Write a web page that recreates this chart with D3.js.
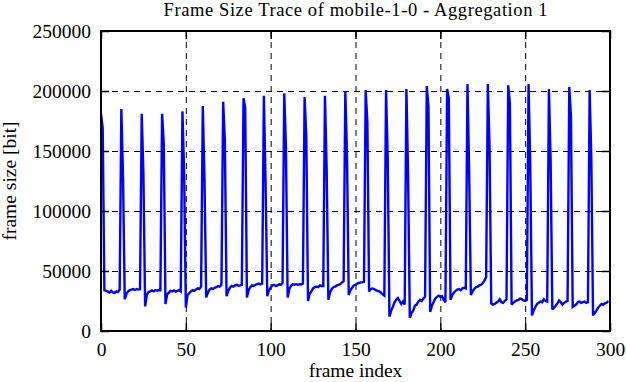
<!DOCTYPE html>
<html><head><meta charset="utf-8">
<script src="https://cdn.jsdelivr.net/npm/d3@7"></script>
<style>body{margin:0;background:#fff}svg{display:block}svg text{font-family:"Liberation Serif","Times New Roman",serif !important;fill:#000}</style>
</head><body>
<script>
const title = "Frame Size Trace of mobile-1-0 - Aggregation 1";
const xLabel = "frame index";
const yLabel = "frame size [bit]";
const xTicks = [0, 50, 100, 150, 200, 250, 300];
const yTicks = [0, 50000, 100000, 150000, 200000, 250000];
const frameSize = [
181000,169000,34000,33500,32800,32000,33500,32200,31800,33000,32400,34500,
185000,127000,26500,31000,33000,34000,34500,35000,34200,35000,34500,34800,
181000,131000,20500,30000,32500,33000,33800,33000,34000,33500,34200,34000,
181000,156000,22500,30500,32000,33500,33000,33800,32800,33500,34000,33000,
183000,132000,19500,30000,31500,33000,34000,33500,34500,35500,35000,37000,
187500,126000,28000,32000,34500,35500,35000,36000,36500,37500,37000,38500,
191000,159000,29000,33500,36000,37500,37000,38000,38500,37800,38000,38500,
194000,186000,28000,34000,36500,38000,37500,38500,39000,39500,38800,39500,
196000,124000,29000,34000,36000,38000,38500,37500,38000,39000,38500,40000,
198000,153000,28000,35000,37500,39000,38500,39000,38500,39000,38800,39500,
195000,162000,25000,31000,33000,35500,36500,37000,36500,38000,37500,37500,
196000,135000,26000,32000,35000,36500,37000,38000,38500,39000,40500,41500,
200000,145000,30000,34000,36000,38000,38500,39500,40000,40500,40500,41000,
200800,174000,33000,35000,35500,35000,34000,33500,33000,32000,30500,29500,
200800,144000,12000,17000,20000,24000,26000,27500,25000,22500,24500,22000,
201700,130000,11000,15000,17000,21000,22000,24500,26000,25000,27000,28500,
204000,187500,16000,21000,24000,27000,28500,29500,28500,29000,26000,24000,
201700,194000,26000,30000,32000,33500,34500,35000,34000,35500,36000,35500,
205800,131000,30000,33000,35000,36500,37000,38000,38500,40000,42000,45000,
205800,154000,23000,22000,22500,23500,24500,26500,24000,23500,25000,26500,
204700,189700,22000,23500,24500,25500,26000,27000,26500,25500,25000,26000,
205800,137800,13000,17000,20000,22500,23500,24500,24000,26500,25000,24500,
201700,142500,18000,19500,21000,23000,25500,24000,22000,23500,24500,25000,
203300,179000,20000,21000,22000,24000,24500,23500,24000,24500,23500,24000,
200800,143000,13000,15000,17000,19500,21000,22500,22000,23000,23500,25000
];

const W = 626, H = 382;
const L = 101, R = 610, T = 31, B = 331;
const svg = d3.select("body").append("svg").attr("width", W).attr("height", H);
const x = d3.scaleLinear().domain([0, 300]).range([L, R]);
const y = d3.scaleLinear().domain([0, 250000]).range([B, T]);

const g = svg.append("g");
g.selectAll(".gx").data(xTicks.filter(d => d > 0 && d < 300)).enter().append("line")
  .attr("x1", d => x(d) + 0.5).attr("x2", d => x(d) + 0.5).attr("y1", T).attr("y2", B)
  .attr("stroke", "#000").attr("stroke-width", 1).attr("stroke-dasharray", "6,5");
g.selectAll(".gy").data(yTicks.filter(d => d > 0 && d < 250000)).enter().append("line")
  .attr("x1", L).attr("x2", R).attr("y1", d => y(d) + 0.5).attr("y2", d => y(d) + 0.5)
  .attr("stroke", "#000").attr("stroke-width", 1).attr("stroke-dasharray", "6,5");

const line = d3.line().x((d, i) => x(i)).y(d => y(d));
svg.append("path").datum(frameSize).attr("d", line)
  .attr("fill", "none").attr("stroke", "#0000ff").attr("stroke-width", 2.4)
  .attr("stroke-linejoin", "miter").attr("stroke-miterlimit", 2.5);

const tl = 8;
const font = '"Liberation Serif","Times New Roman",serif';
const axB = svg.append("g").attr("transform", `translate(0,${B})`)
  .call(d3.axisBottom(x).tickValues(xTicks).tickSize(-tl).tickPadding(11).tickFormat(d3.format("d")));
const axT = svg.append("g").attr("transform", `translate(0,${T})`)
  .call(d3.axisTop(x).tickValues(xTicks).tickSize(-tl).tickFormat(""));
const axL = svg.append("g").attr("transform", `translate(${L},0)`)
  .call(d3.axisLeft(y).tickValues(yTicks).tickSize(-tl).tickPadding(10).tickFormat(d3.format("d")));
const axR = svg.append("g").attr("transform", `translate(${R},0)`)
  .call(d3.axisRight(y).tickValues(yTicks).tickSize(-tl).tickFormat(""));
[axB, axT, axL, axR].forEach(a => {
  a.attr("font-family", font).attr("font-size", 19.5);
  a.select(".domain").remove();
  a.selectAll(".tick line").attr("stroke", "#000").attr("stroke-width", 1.5);
  a.selectAll("text").attr("fill", "#000");
});

svg.append("rect").attr("x", L).attr("y", T).attr("width", R - L).attr("height", B - T)
  .attr("fill", "none").attr("stroke", "#000").attr("stroke-width", 2);

svg.append("text").attr("x", (L + R) / 2).attr("y", 16).attr("text-anchor", "middle")
  .attr("font-size", 18.5).attr("textLength", 384).attr("lengthAdjust", "spacing").text(title);
svg.append("text").attr("x", (L + R) / 2).attr("y", 377).attr("text-anchor", "middle")
  .attr("font-size", 19.5).text(xLabel);
svg.append("text").attr("transform", `translate(16,${(T + B) / 2}) rotate(-90)`).attr("text-anchor", "middle")
  .attr("font-size", 19.5).text(yLabel);
</script>
</body></html>
